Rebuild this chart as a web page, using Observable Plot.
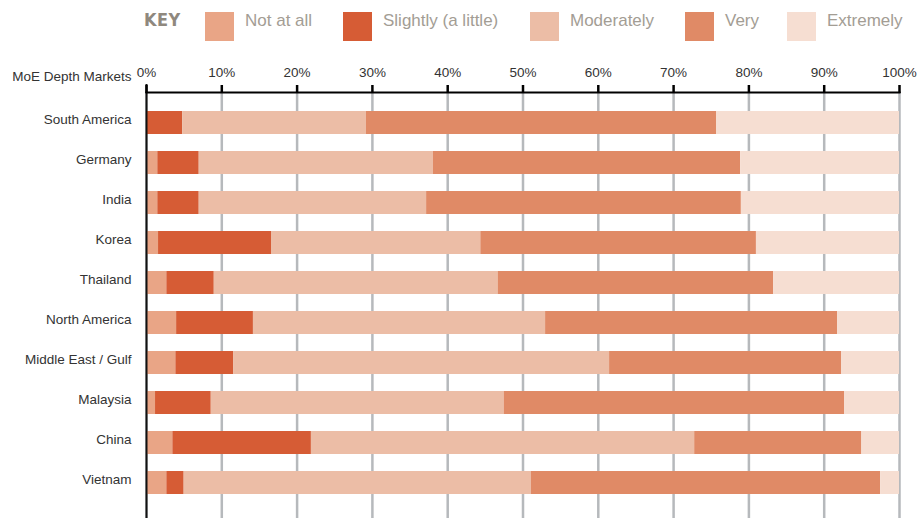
<!DOCTYPE html>
<html>
<head>
<meta charset="utf-8">
<script src="https://cdn.jsdelivr.net/npm/d3@7"></script>
<script src="https://cdn.jsdelivr.net/npm/@observablehq/plot@0.6"></script>
<style>
  body { margin: 0; background: #fff; font-family: "Liberation Sans", Arial, sans-serif; }
  #legend { position: relative; height: 50px; width: 921px; }
  #legend .key { position: absolute; left: 144px; top: 11px; font-family: "Liberation Sans Narrow", "DejaVu Sans Condensed", sans-serif; font-weight: bold; font-size: 18px; line-height: 18px; color: #8f887e; letter-spacing: 0.5px; }
  #legend .sw { position: absolute; top: 12px; width: 29px; height: 29px; }
  #legend .lab { position: absolute; top: 12px; font-size: 17px; line-height: 17px; color: #a39d94; white-space: nowrap; }
  #chart { height: 468px; }
</style>
</head>
<body>
<div id="legend"></div>
<div id="chart"></div>
<script>
// ---- data ----
const markets = ["South America", "Germany", "India", "Korea", "Thailand", "North America", "Middle East / Gulf", "Malaysia", "China", "Vietnam"];
const levels = ["Not at all", "Slightly (a little)", "Moderately", "Very", "Extremely"];
const notAtAll   = [0.0, 1.5, 1.5, 1.6, 2.7, 4.0, 3.9, 1.2, 3.5, 2.7];
const slightly   = [4.8, 5.5, 5.5, 15.0, 6.3, 10.2, 7.7, 7.4, 18.4, 2.3];
const moderately = [24.4, 31.1, 30.2, 27.8, 37.7, 38.8, 49.9, 38.9, 50.9, 46.1];
const very       = [46.5, 40.8, 41.8, 36.6, 36.6, 38.8, 30.8, 45.2, 22.2, 46.4];
const extremely  = [24.3, 21.1, 21.0, 19.0, 16.7, 8.2, 7.7, 7.3, 5.0, 2.5];
const xTicks = [0, 10, 20, 30, 40, 50, 60, 70, 80, 90, 100];
const colors = ["#E9A586", "#D65C35", "#ECBDA6", "#E08A66", "#F6DED2"];

const series = [notAtAll, slightly, moderately, very, extremely];
const data = markets.flatMap((m, i) => levels.map((l, j) => ({market: m, level: l, value: series[j][i]})));

// ---- legend (HTML, above the SVG) ----
const legendLefts = [205, 343, 530, 685, 787];
const legend = document.getElementById("legend");
const key = document.createElement("div");
key.className = "key"; key.textContent = "KEY";
legend.appendChild(key);
levels.forEach((l, j) => {
  const sw = document.createElement("div");
  sw.className = "sw"; sw.style.left = legendLefts[j] + "px"; sw.style.background = colors[j];
  legend.appendChild(sw);
  const lab = document.createElement("div");
  lab.className = "lab"; lab.style.left = (legendLefts[j] + 40) + "px"; lab.textContent = l;
  legend.appendChild(lab);
});

// ---- chart ----
const chart = Plot.plot({
  width: 921,
  height: 468,
  marginLeft: 146,
  marginRight: 22,
  marginTop: 42,
  marginBottom: 0,
  style: {fontFamily: "'Liberation Sans', Arial, sans-serif", fontSize: "13.5px", color: "#333", background: "#fff"},
  x: {domain: [0, 100], label: null},
  y: {domain: markets, range: [51, 453], paddingInner: 0.43, paddingOuter: 0.215, label: null},
  color: {domain: levels, range: colors},
  marks: [
    Plot.ruleX(xTicks, {x: d => d, stroke: "#b6b9bc", strokeWidth: 2.5}),
    Plot.barX(data, {x: "value", y: "market", fill: "level"}),
    Plot.ruleX([0], {stroke: "#111", strokeWidth: 2, insetTop: -8}),
    Plot.frame({anchor: "top", stroke: "#000", strokeWidth: 2}),
    Plot.axisX({anchor: "top", ticks: xTicks, tickFormat: d => d + "%", tickSize: 8, tickPadding: 8, stroke: "#000", strokeWidth: 2.5, fontSize: 13.5, label: null}),
    Plot.axisY({tickSize: 0, tickPadding: 15, fontSize: 13.5, dy: -3, label: null}),
    Plot.text(["MoE Depth Markets"], {frameAnchor: "top-left", textAnchor: "end", dx: -15, dy: -21, fontSize: 13.5, fill: "#333"})
  ]
});
document.getElementById("chart").appendChild(chart);
</script>
</body>
</html>
